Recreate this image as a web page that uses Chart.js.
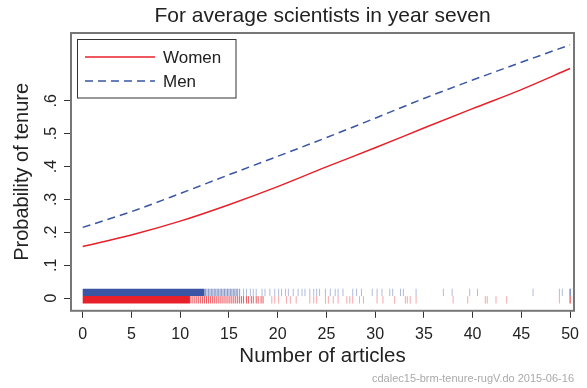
<!DOCTYPE html>
<html>
<head>
<meta charset="utf-8">
<script src="https://cdn.jsdelivr.net/npm/chart.js@4.4.1/dist/chart.umd.min.js"></script>
<style>
  html, body { margin: 0; padding: 0; background: #fff; }
  #wrap { width: 587px; height: 388px; }
</style>
</head>
<body>
<div id="wrap"><canvas id="tenureChart" width="587" height="388"></canvas></div>
<script>
// predicted probabilities
const ARTICLES = [0, 5, 10, 15, 20, 25, 30, 35, 40, 45, 50];
const WOMEN = [0.157, 0.192, 0.234, 0.284, 0.339, 0.399, 0.457, 0.517, 0.576, 0.634, 0.698];
const MEN = [0.215, 0.263, 0.318, 0.375, 0.431, 0.488, 0.547, 0.607, 0.663, 0.717, 0.770];

const X_TICKS = [0, 5, 10, 15, 20, 25, 30, 35, 40, 45, 50];
const Y_TICKS = [0, 0.1, 0.2, 0.3, 0.4, 0.5, 0.6];
const Y_TICK_LABELS = ['0', '.1', '.2', '.3', '.4', '.5', '.6'];

// rug of observed article counts (solid = start/end of the fully covered span)
const WOMEN_RUG_SOLID = [0, 11];
const WOMEN_RUG_MID = [11.1, 11.3, 11.5, 11.7, 11.9, 12.1, 12.3, 12.5, 12.7, 12.9, 13.1, 13.3, 13.5, 13.7, 13.9,
    14.1, 14.3, 14.5, 14.7, 14.9, 15.1, 15.3, 15.5, 15.7, 15.9, 16.1, 16.3, 16.5, 16.8, 17.0, 17.3, 17.5, 17.8,
    18.0, 18.3, 18.5];
const WOMEN_RUG_SPARSE = [19.4, 19.7, 20.1, 20.9, 21.3, 21.9, 23.3, 23.7, 24.0, 24.9, 25.2, 25.7, 26.2, 27.1, 27.4,
    27.7, 28.4, 28.8, 30.2, 30.8, 32, 33.1, 33.3, 33.6, 34.2, 38, 39.5, 41.3, 41.5, 42.4, 43.5, 48.9];
const WOMEN_RUG_TOP = [50];

const MEN_RUG_SOLID = [0, 12.5];
const MEN_RUG_MID = [12.6, 12.75, 12.9, 13.05, 13.2, 13.35, 13.5, 13.65, 13.8, 13.95, 14.1, 14.25, 14.4, 14.55,
    14.7, 14.85, 15.0, 15.15, 15.3, 15.45, 15.6, 15.75, 15.9, 16.1];
const MEN_RUG_SPARSE = [16.5, 16.8, 17.2, 17.5, 17.8, 18.4, 18.7, 19.2, 19.7, 20.1, 20.4, 20.8, 21.1, 21.6, 22.1,
    22.5, 22.8, 23.3, 23.7, 24.0, 24.3, 24.9, 25.4, 25.9, 26.2, 26.7, 27.7, 28.1, 28.6, 29.7, 30.2, 30.7, 31.5,
    31.8, 32.6, 32.9, 34.2, 37, 37.9, 39.7, 40.5, 46.2, 48.9, 49.2];
const MEN_RUG_TOP = [50];

const RED = '#e8202a';
const BLUE = '#3a55a4';
const WOMEN_RUG_Y = -0.0052;
const MEN_RUG_Y = 0.0173;

Chart.defaults.font.family = "'Liberation Sans', Arial, sans-serif";
Chart.defaults.color = '#222';

function pts(xs, ys) {
    return xs.map((x, i) => ({ x: x, y: Array.isArray(ys) ? ys[i] : ys }));
}

function rugTicks(xs, y, color, order) {
    return {
        data: pts(xs, y),
        showLine: false,
        pointStyle: 'line',
        rotation: 90,
        radius: 3.7,
        hoverRadius: 3.7,
        borderWidth: 1,
        borderColor: color,
        backgroundColor: color,
        order: order
    };
}

function rugBand(xs, y, color, order) {
    return {
        data: pts(xs, y),
        showLine: true,
        borderWidth: 7.4,
        borderCapStyle: 'butt',
        borderColor: color,
        pointRadius: 0,
        order: order
    };
}

// plot region frame
const frame = {
    id: 'frame',
    beforeDatasetsDraw(chart) {
        const { ctx, chartArea: a } = chart;
        ctx.save();
        ctx.strokeStyle = '#777';
        ctx.lineWidth = 2;
        ctx.strokeRect(a.left, a.top, a.right - a.left, a.bottom - a.top);
        ctx.restore();
    }
};

// legend drawn inside the plot region
const innerLegend = {
    id: 'innerLegend',
    afterDraw(chart) {
        const { ctx } = chart;
        const items = chart.data.datasets.filter(d => d.label);
        ctx.save();
        ctx.fillStyle = '#fff';
        ctx.fillRect(77, 39.5, 159, 58.5);
        ctx.strokeStyle = '#333';
        ctx.lineWidth = 1;
        ctx.strokeRect(77.5, 39.5, 158.5, 58.5);
        items.forEach((d, i) => {
            const y = 57 + i * 24;
            ctx.beginPath();
            ctx.setLineDash(d.borderDash || []);
            ctx.strokeStyle = d.borderColor;
            ctx.lineWidth = d.borderWidth;
            ctx.moveTo(85, y);
            ctx.lineTo(155, y);
            ctx.stroke();
            ctx.setLineDash([]);
            ctx.fillStyle = '#222';
            ctx.font = "17px 'Liberation Sans', Arial, sans-serif";
            ctx.textBaseline = 'middle';
            ctx.fillText(d.label, 163, y + 1.5);
        });
        ctx.restore();
    }
};

const ctx = document.getElementById('tenureChart').getContext('2d');
const tenureChart = new Chart(ctx, {
    type: 'scatter',
    data: {
        datasets: [
            {
                label: 'Women',
                data: pts(ARTICLES, WOMEN),
                showLine: true,
                borderColor: RED,
                borderWidth: 1.5,
                cubicInterpolationMode: 'monotone',
                pointRadius: 0,
                order: 0
            },
            {
                label: 'Men',
                data: pts(ARTICLES, MEN),
                showLine: true,
                borderColor: BLUE,
                borderWidth: 1.5,
                borderDash: [8, 5],
                cubicInterpolationMode: 'monotone',
                pointRadius: 0,
                order: 1
            },
            rugBand(WOMEN_RUG_SOLID, WOMEN_RUG_Y, RED, 5),
            rugTicks(WOMEN_RUG_MID, WOMEN_RUG_Y, 'rgba(232, 32, 42, 0.75)', 5),
            rugTicks(WOMEN_RUG_SPARSE, WOMEN_RUG_Y, 'rgba(232, 32, 42, 0.4)', 5),
            rugTicks(WOMEN_RUG_TOP, WOMEN_RUG_Y, RED, 5),
            rugBand(MEN_RUG_SOLID, MEN_RUG_Y, BLUE, 5),
            rugTicks(MEN_RUG_MID, MEN_RUG_Y, 'rgba(58, 85, 164, 0.6)', 5),
            rugTicks(MEN_RUG_SPARSE, MEN_RUG_Y, 'rgba(58, 85, 164, 0.4)', 5),
            rugTicks(MEN_RUG_TOP, MEN_RUG_Y, BLUE, 5)
        ]
    },
    options: {
        responsive: false,
        animation: false,
        devicePixelRatio: 1,
        layout: {
            padding: { left: 0, right: 13, top: 0, bottom: 0 }
        },
        plugins: {
            legend: { display: false },
            tooltip: { enabled: false },
            subtitle: {
                display: true,
                text: 'cdalec15-brm-tenure-rugV.do 2015-06-16',
                position: 'bottom',
                align: 'end',
                color: '#aaa',
                font: { size: 11, weight: 'normal' },
                padding: { top: 0, bottom: 2 }
            }
        },
        scales: {
            x: {
                type: 'linear',
                position: 'bottom',
                min: -1.2,
                max: 50.4,
                afterBuildTicks: function(scale) {
                    scale.ticks = X_TICKS.map(v => ({ value: v }));
                },
                afterFit: function(scale) {
                    scale.height = 62;
                },
                border: { display: false },
                grid: {
                    drawOnChartArea: false,
                    drawTicks: true,
                    tickLength: 7,
                    tickColor: '#333',
                    tickWidth: 1
                },
                ticks: {
                    autoSkip: false,
                    maxRotation: 0,
                    padding: 7,
                    color: '#222',
                    font: { size: 16 }
                },
                title: {
                    display: true,
                    text: 'Number of articles',
                    color: '#222',
                    font: { size: 20.5 },
                    padding: { top: 0, bottom: 4 }
                }
            },
            x2: {
                type: 'linear',
                position: 'top',
                afterFit: function(scale) {
                    scale.height = 33;
                },
                border: { display: false },
                grid: { display: false },
                ticks: { display: false },
                title: {
                    display: true,
                    text: 'For average scientists in year seven',
                    color: '#222',
                    font: { size: 21 },
                    padding: { top: 4, bottom: 0 }
                }
            },
            y: {
                type: 'linear',
                min: -0.0386,
                max: 0.806,
                afterBuildTicks: function(scale) {
                    scale.ticks = Y_TICKS.map(v => ({ value: v }));
                },
                afterFit: function(scale) {
                    scale.width = 71;
                },
                border: { display: false },
                grid: {
                    drawOnChartArea: false,
                    drawTicks: true,
                    tickLength: 7,
                    tickColor: '#333',
                    tickWidth: 1
                },
                ticks: {
                    minRotation: 90,
                    maxRotation: 90,
                    crossAlign: 'center',
                    padding: 6,
                    color: '#222',
                    font: { size: 16 },
                    callback: function(value, index) {
                        return Y_TICK_LABELS[index];
                    }
                },
                title: {
                    display: true,
                    text: 'Probability of tenure',
                    color: '#222',
                    font: { size: 20 },
                    padding: { top: 10, bottom: 0 }
                }
            }
        }
    },
    plugins: [frame, innerLegend]
});
</script>
</body>
</html>
